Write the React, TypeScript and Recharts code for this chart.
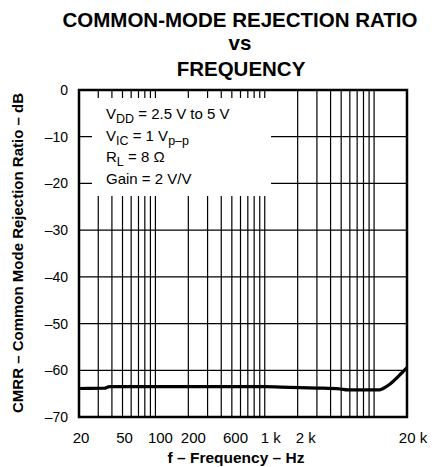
import { CartesianGrid, Line, LineChart, ReferenceArea, XAxis, YAxis } from "recharts";

// Frequency (Hz) and CMRR (dB)
const FREQ_HZ = [20, 34, 38, 100, 1000, 1400, 2100, 3000, 4900, 5700, 11300, 12100, 13500, 14900, 16500, 18400, 20000];
const CMRR_DB = [-63.9, -63.85, -63.5, -63.5, -63.5, -63.6, -63.7, -63.8, -64.0, -64.2, -64.2, -63.9, -63.2, -62.4, -61.4, -60.3, -59.4];

const X_LABEL_TICKS = [20, 50, 100, 200, 600, 1000, 2000, 20000];
const X_GRID_LINES = [
  30, 40, 50, 60, 70, 80, 90, 100,
  200, 300, 400, 500, 600, 700, 800, 900, 1000,
  2000, 3000, 4000, 5000, 6000, 7000, 8000, 9000, 10000,
];
const Y_TICKS = [0, -10, -20, -30, -40, -50, -60, -70];

const CONDITIONS = [
  { main: "V", sub: "DD", rest: " = 2.5 V to 5 V" },
  { main: "V", sub: "IC", rest: " = 1 V", sub2: "p–p" },
  { main: "R", sub: "L", rest: " = 8 Ω" },
  { main: "Gain = 2 V/V" },
];

// the printed labels sit a little off their ticks in the original
const LABEL_NUDGE: Record<number, number> = { 20: 2, 50: 2, 100: 5, 200: 5, 600: -5, 1000: 6, 2000: 8, 20000: 6 };

// blank area behind the test conditions (data coords)
const NOTE_BOX = { x1: 26.3, x2: 1142, y1: -22.7, y2: -1.7 };

const FONT = "'Liberation Sans', Arial, Helvetica, sans-serif";

const data = FREQ_HZ.map((f, i) => ({ f, cmrr: CMRR_DB[i] }));

const fmtHz = (v: number) => (v >= 1000 ? `${v / 1000} k` : `${v}`);
const fmtDb = (v: number) => (v < 0 ? `–${-v}` : `${v}`);

const verticalGrid = ({ xAxis }: any) => {
  const s = xAxis.scale;
  const map = typeof s === "function" ? s : (v: number) => s.map(v);
  return X_GRID_LINES.map((v) => map(v));
};

const FreqTick = ({ x, y, payload }: any) => (
  <text
    x={x + (LABEL_NUDGE[payload.value] ?? 0)}
    y={y}
    dy="0.71em"
    textAnchor="middle"
    fontSize={15}
    fill="#000"
  >
    {fmtHz(payload.value)}
  </text>
);

export default function App() {
  return (
    <div style={{ position: "absolute", left: 0, top: 0, width: 432, height: 467, background: "#fff" }}>
      <LineChart
        width={432}
        height={467}
        data={data}
        margin={{ top: 90, right: 25, left: 0, bottom: 0 }}
        style={{ fontFamily: FONT }}
      >
        <CartesianGrid stroke="#000" strokeWidth={1.2} verticalCoordinatesGenerator={verticalGrid} />
        <ReferenceArea {...NOTE_BOX} fill="#fff" fillOpacity={1} stroke="none" />
        <XAxis
          dataKey="f"
          type="number"
          scale="log"
          domain={[20, 20000]}
          ticks={X_LABEL_TICKS}
          interval={0}
          allowDataOverflow
          axisLine={false}
          tickLine={false}
          tickSize={0}
          tickMargin={15}
          height={50}
          tick={FreqTick}
        />
        <YAxis
          type="number"
          domain={[-70, 0]}
          ticks={Y_TICKS}
          tickFormatter={fmtDb}
          interval={0}
          axisLine={false}
          tickLine={false}
          tickSize={0}
          tickMargin={11}
          width={79}
          tick={{ fill: "#000", fontSize: 14 }}
        />
        <Line
          type="monotone"
          dataKey="cmrr"
          stroke="#000"
          strokeWidth={3.2}
          dot={false}
          activeDot={false}
          isAnimationActive={false}
        />
        <ReferenceArea x1={20} x2={20000} y1={-70} y2={0} fill="none" stroke="#000" strokeWidth={2.5} />
      </LineChart>

      <svg
        width={432}
        height={467}
        style={{ position: "absolute", left: 0, top: 0, pointerEvents: "none", fontFamily: FONT }}
      >
        <g fontWeight="bold" fontSize={20.5} textAnchor="middle" fill="#000">
          <text x={240} y={27}>COMMON-MODE REJECTION RATIO</text>
          <text x={240} y={50}>vs</text>
          <text x={241} y={76}>FREQUENCY</text>
        </g>
        <text x={236} y={463} textAnchor="middle" fontWeight="bold" fontSize={15.5} fill="#000">
          f – Frequency – Hz
        </text>
        <text
          transform="translate(23, 253) rotate(-90)"
          textAnchor="middle"
          fontWeight="bold"
          fontSize={15}
          fill="#000"
        >
          CMRR – Common Mode Rejection Ratio – dB
        </text>
        <g fontSize={15} fill="#000">
          {CONDITIONS.map((c, i) => (
            <text key={i} x={106} y={119 + i * 21.6}>
              {c.main}
              {c.sub && (
                <tspan fontSize={12.5} dy={4}>
                  {c.sub}
                </tspan>
              )}
              {c.rest && <tspan dy={c.sub ? -4 : 0}>{c.rest}</tspan>}
              {c.sub2 && (
                <tspan fontSize={12.5} dy={4}>
                  {c.sub2}
                </tspan>
              )}
            </text>
          ))}
        </g>
      </svg>
    </div>
  );
}
